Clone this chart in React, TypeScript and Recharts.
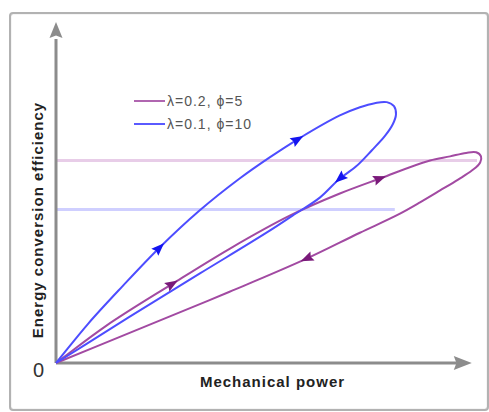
import React from "react";
import { ComposedChart, Line, Scatter, XAxis, YAxis } from "recharts";

// ---- data (arbitrary units: power 0..108, efficiency 0..100) ----
const blueLoop = [
  { x: 0, y: 0 }, { x: 8, y: 11.5 }, { x: 16.5, y: 22.4 }, { x: 25.8, y: 33.8 },
  { x: 35.8, y: 44.7 }, { x: 45.8, y: 54.1 }, { x: 53.3, y: 60.3 }, { x: 60.3, y: 65.6 },
  { x: 70.8, y: 72.6 }, { x: 75.8, y: 75.0 }, { x: 79.5, y: 76.2 }, { x: 82.5, y: 76.5 },
  { x: 84.3, y: 75.3 }, { x: 84.8, y: 72.9 }, { x: 84, y: 70 }, { x: 82, y: 66.5 },
  { x: 78.8, y: 62.4 }, { x: 74.8, y: 57.6 }, { x: 70.8, y: 54.1 }, { x: 65.8, y: 48.5 },
  { x: 59, y: 43.2 }, { x: 53.3, y: 38.8 }, { x: 35.8, y: 26.2 }, { x: 18.3, y: 13.5 },
  { x: 0, y: 0 },
];
const purpleLoop = [
  { x: 0, y: 0 }, { x: 12.5, y: 10.9 }, { x: 29, y: 23.2 }, { x: 43.3, y: 33.5 },
  { x: 58.3, y: 43.2 }, { x: 70.8, y: 49.7 }, { x: 80.8, y: 54.1 }, { x: 93.3, y: 59.4 },
  { x: 98.3, y: 60.6 }, { x: 102.3, y: 61.6 }, { x: 104.8, y: 61.8 }, { x: 106, y: 60.6 },
  { x: 105.8, y: 58.8 }, { x: 103.8, y: 56.5 }, { x: 100.3, y: 53.8 }, { x: 95.8, y: 50.6 },
  { x: 90.8, y: 47.1 }, { x: 85.8, y: 43.8 }, { x: 75.8, y: 38.2 }, { x: 62.5, y: 30.6 },
  { x: 43.3, y: 20.9 }, { x: 20.8, y: 10 }, { x: 0, y: 0 },
];
const purpleLevel = [{ x: 0, y: 59.4 }, { x: 105, y: 59.4 }];
const blueLevel = [{ x: 0, y: 45 }, { x: 84.5, y: 45 }];

// arrow marks: position + direction of travel (data units)
const blueArrows = [
  { x: 25.8, y: 33.8, dx: 19.3, dy: 22.3 },
  { x: 60.3, y: 65.6, dx: 17.5, dy: 12.3 },
  { x: 70.8, y: 54.1, dx: -9, dy: -9.1 },
];
const purpleArrows = [
  { x: 29, y: 23.2, dx: 30.8, dy: 22.6 },
  { x: 80.8, y: 54.1, dx: 22.5, dy: 9.7 },
  { x: 62.5, y: 30.6, dx: -32.5, dy: -17.3 },
];
const xAxisLine = [{ x: 0, y: 0 }, { x: 100, y: 0 }];
const yAxisLine = [{ x: 0, y: 0 }, { x: 0, y: 95 }];
const xAxisTip = [{ x: 103.7, y: 0, dx: 1, dy: 0 }];
const yAxisTip = [{ x: 0, y: 100, dx: 0, dy: 1 }];

const legendItems = [
  { label: "λ=0.2, ϕ=5", color: "#b066b0" },
  { label: "λ=0.1, ϕ=10", color: "#5a5aff" },
];
const xLabel = "Mechanical power";
const yLabel = "Energy conversion efficiency";
const originLabel = "0";

// ---- layout ----
const W = 489;
const H = 412;
const M = { top: 22, right: 0, left: 56, bottom: 0 };
const XAXIS_H = 49;
const X_MAX = 108;
const Y_MAX = 100;
const KX = (W - M.left - M.right) / X_MAX;
const KY = (H - M.top - M.bottom - XAXIS_H) / Y_MAX;
const FONT = "'Liberation Sans', Arial, sans-serif";

const BLUE = "#4d4dff";
const PURPLE = "#a24aa2";

// smooth parametric curve (tangent = bisector of neighbouring unit directions)
function smoothCurve(context: any) {
  let pts: number[][] = [];
  return {
    areaStart() {},
    areaEnd() {},
    lineStart() {
      pts = [];
    },
    point(x: number, y: number) {
      pts.push([+x, +y]);
    },
    lineEnd() {
      const n = pts.length;
      if (!n) return;
      context.moveTo(pts[0][0], pts[0][1]);
      const unit = (a: number[], b: number[]) => {
        const dx = b[0] - a[0];
        const dy = b[1] - a[1];
        const l = Math.hypot(dx, dy) || 1;
        return [dx / l, dy / l];
      };
      const tangent = (i: number) => {
        if (i === 0) return unit(pts[0], pts[1]);
        if (i === n - 1) return unit(pts[n - 2], pts[n - 1]);
        const a = unit(pts[i - 1], pts[i]);
        const b = unit(pts[i], pts[i + 1]);
        const tx = a[0] + b[0];
        const ty = a[1] + b[1];
        const l = Math.hypot(tx, ty) || 1;
        return [tx / l, ty / l];
      };
      for (let i = 0; i < n - 1; i++) {
        const p1 = pts[i];
        const p2 = pts[i + 1];
        const d = Math.hypot(p2[0] - p1[0], p2[1] - p1[1]) / 3;
        const t1 = tangent(i);
        const t2 = tangent(i + 1);
        context.bezierCurveTo(
          p1[0] + t1[0] * d,
          p1[1] + t1[1] * d,
          p2[0] - t2[0] * d,
          p2[1] - t2[1] * d,
          p2[0],
          p2[1]
        );
      }
    },
  };
}

function makeArrow(color: string, len: number, wid: number, tipAnchored: boolean) {
  return (props: any) => {
    const { cx, cy, payload } = props;
    if (cx == null || cy == null || !payload) return <g />;
    let ux = payload.dx * KX;
    let uy = -payload.dy * KY;
    const n = Math.hypot(ux, uy) || 1;
    ux /= n;
    uy /= n;
    const px = -uy;
    const py = ux;
    const tipOff = tipAnchored ? 0 : len / 2;
    const tx = cx + ux * tipOff;
    const ty = cy + uy * tipOff;
    const bx = tx - ux * len;
    const by = ty - uy * len;
    const pts = [
      [tx, ty],
      [bx + px * wid / 2, by + py * wid / 2],
      [bx + ux * len * 0.15, by + uy * len * 0.15],
      [bx - px * wid / 2, by - py * wid / 2],
    ]
      .map((p) => p.join(","))
      .join(" ");
    return <polygon points={pts} fill={color} stroke="none" />;
  };
}

export default function App() {
  return (
    <div style={{ position: "fixed", left: 0, top: 0, width: W, height: H, background: "#fff", fontFamily: FONT }}>
      <div
        style={{
          position: "absolute",
          left: 9,
          top: 12,
          width: 480,
          height: 399,
          boxSizing: "border-box",
          border: "2px solid #b2b2b2",
          borderRadius: 4,
          boxShadow: "inset 0 0 1px #999",
        }}
      />
      <div style={{ position: "absolute", left: 0, top: 0 }}>
        <ComposedChart width={W} height={H} margin={M}>
          <XAxis
            type="number"
            dataKey="x"
            domain={[0, X_MAX]}
            height={XAXIS_H}
            tick={false}
            tickLine={false}
            axisLine={false}
            label={{
              value: xLabel,
              position: "insideTop",
              offset: 13,
              fill: "#222",
              fontSize: 15,
              fontWeight: "bold",
              letterSpacing: 1,
              fontFamily: FONT,
            }}
          />
          <YAxis type="number" dataKey="y" domain={[0, Y_MAX]} hide />
          <Line data={purpleLevel} dataKey="y" stroke="#e8cde8" strokeWidth={3} dot={false} activeDot={false} isAnimationActive={false} />
          <Line data={blueLevel} dataKey="y" stroke="#cfcfff" strokeWidth={3} dot={false} activeDot={false} isAnimationActive={false} />
          <Line data={xAxisLine} dataKey="y" stroke="#8c8c8c" strokeWidth={3} dot={false} activeDot={false} isAnimationActive={false} />
          <Line data={yAxisLine} dataKey="y" stroke="#8c8c8c" strokeWidth={3} dot={false} activeDot={false} isAnimationActive={false} />
          <Scatter data={xAxisTip} dataKey="y" shape={makeArrow("#8c8c8c", 18, 14, true)} isAnimationActive={false} />
          <Scatter data={yAxisTip} dataKey="y" shape={makeArrow("#8c8c8c", 16, 13, true)} isAnimationActive={false} />
          <Line data={purpleLoop} dataKey="y" type={smoothCurve as any} stroke={PURPLE} strokeWidth={2} dot={false} activeDot={false} isAnimationActive={false} />
          <Line data={blueLoop} dataKey="y" type={smoothCurve as any} stroke={BLUE} strokeWidth={2} dot={false} activeDot={false} isAnimationActive={false} />
          <Scatter data={purpleArrows} dataKey="y" shape={makeArrow("#7a1a7a", 13, 10, false)} isAnimationActive={false} />
          <Scatter data={blueArrows} dataKey="y" shape={makeArrow("#1414f0", 13, 10, false)} isAnimationActive={false} />
        </ComposedChart>
      </div>
      {legendItems.map((it, i) => (
        <div
          key={it.label}
          style={{
            position: "absolute",
            left: 134,
            top: 101 + i * 23 - 11.5,
            height: 23,
            display: "flex",
            alignItems: "center",
            fontSize: 14,
            letterSpacing: 1,
            color: "#555",
            whiteSpace: "nowrap",
          }}
        >
          <span style={{ display: "inline-block", width: 31, height: 2, background: it.color, marginRight: 2 }} />
          <span>{it.label}</span>
        </div>
      ))}
      <div
        style={{
          position: "absolute",
          left: 38 - 150,
          top: 220 - 10,
          width: 300,
          height: 20,
          lineHeight: "20px",
          textAlign: "center",
          transform: "rotate(-90deg)",
          fontSize: 15,
          fontWeight: "bold",
          letterSpacing: 1,
          color: "#222",
          whiteSpace: "nowrap",
        }}
      >
        {yLabel}
      </div>
      <div style={{ position: "absolute", left: 33, top: 360, fontSize: 20, lineHeight: "20px", color: "#333" }}>
        {originLabel}
      </div>
    </div>
  );
}
